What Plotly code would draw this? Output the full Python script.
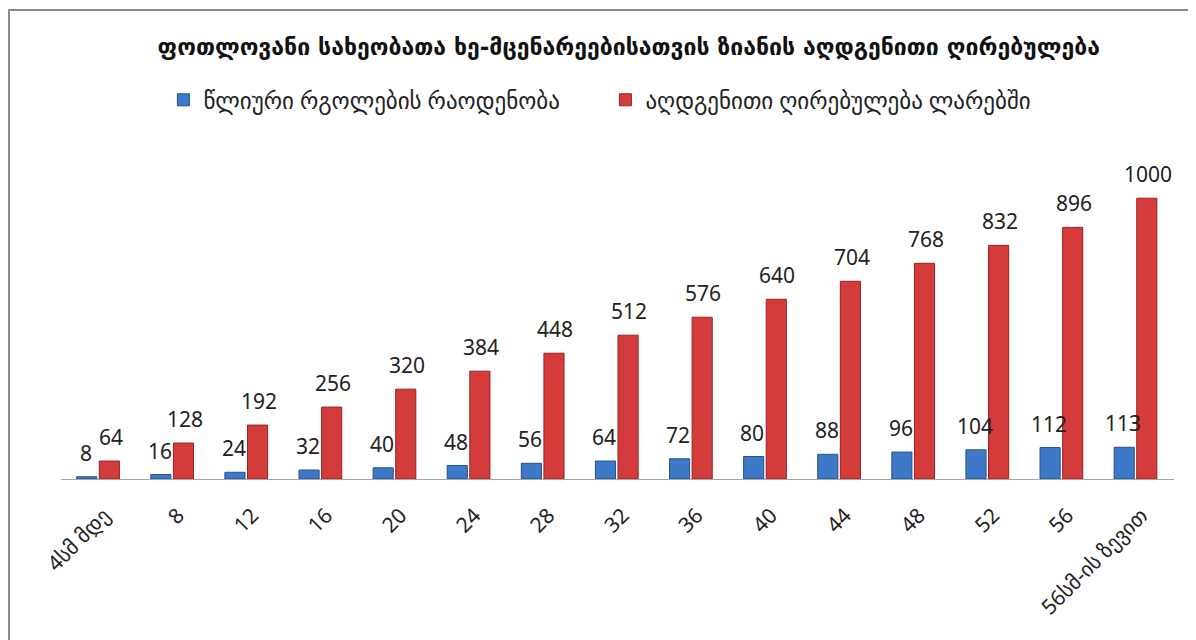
import plotly.graph_objects as go

categories = ["4სმ მდე", "8", "12", "16", "20", "24", "28", "32", "36", "40",
              "44", "48", "52", "56", "56სმ-ის ზევით"]
rings = [8, 16, 24, 32, 40, 48, 56, 64, 72, 80, 88, 96, 104, 112, 113]
cost = [64, 128, 192, 256, 320, 384, 448, 512, 576, 640, 704, 768, 832, 896, 1000]

title_text = "ფოთლოვანი სახეობათა ხე-მცენარეებისათვის ზიანის აღდგენითი ღირებულება"
name_rings = "წლიური რგოლების რაოდენობა"
name_cost = "აღდგენითი ღირებულება ლარებში"

FONT = "Noto Sans, DejaVu Sans, sans-serif"
BLUE, BLUE_EDGE = "#3D79C6", "#24518F"
RED, RED_EDGE = "#D43B3B", "#9A2020"

fig = go.Figure()
fig.add_trace(go.Bar(x=categories, y=rings, name=name_rings,
                     marker=dict(color=BLUE, line=dict(color=BLUE_EDGE, width=1))))
fig.add_trace(go.Bar(x=categories, y=cost, name=name_cost,
                     marker=dict(color=RED, line=dict(color=RED_EDGE, width=1))))

# value labels above bars (x as category index so "8" etc. aren't read as positions)
for i, v in enumerate(rings):
    fig.add_annotation(x=i, y=v, text=str(v), xshift=-12.5, yshift=8,
                       yanchor="bottom", showarrow=False,
                       font=dict(size=21, color="#222222", family=FONT))
for i, v in enumerate(cost):
    fig.add_annotation(x=i, y=v, text=str(v), xshift=12.5, yshift=8,
                       yanchor="bottom", showarrow=False,
                       font=dict(size=21, color="#222222", family=FONT))

# page number fragment at top right
fig.add_annotation(xref="paper", yref="paper", x=0.953, y=1.404, text="8",
                   yanchor="bottom", showarrow=False,
                   font=dict(size=16, color="#222222", family=FONT))

# frame around the chart (left and top edges visible)
fig.add_shape(type="path", xref="paper", yref="paper",
              path="M -0.0467 -0.6 L -0.0467 1.3917 L 1.1 1.3917",
              line=dict(color="#8C8C8C", width=2))

fig.update_layout(
    width=1196, height=640,
    autosize=False,
    margin=dict(l=53, r=30, t=134, b=169),
    paper_bgcolor="white", plot_bgcolor="white",
    barmode="group", bargap=0.39, bargroupgap=0.11,
    title=dict(text="<b>" + title_text + "</b>", x=0.519, xref="container",
               y=1 - 39 / 640, yref="container", yanchor="middle", xanchor="center",
               font=dict(size=23, color="#111111", family="DejaVu Sans")),
    legend=dict(orientation="h", x=0.092, y=1.125, xanchor="left", yanchor="middle",
                font=dict(size=23, color="#222222", family=FONT),
                entrywidth=397, entrywidthmode="pixels"),
    xaxis=dict(showline=True, linecolor="#A6A6A6", linewidth=1, ticks="",
               tickangle=-45, showgrid=False, automargin=False,
               ticklabelstandoff=15, ticklabelshift=6,
               tickfont=dict(size=21, color="#222222", family=FONT)),
    yaxis=dict(range=[0, 1200], visible=False, showgrid=False, automargin=False),
)

fig.write_html("out.html")
